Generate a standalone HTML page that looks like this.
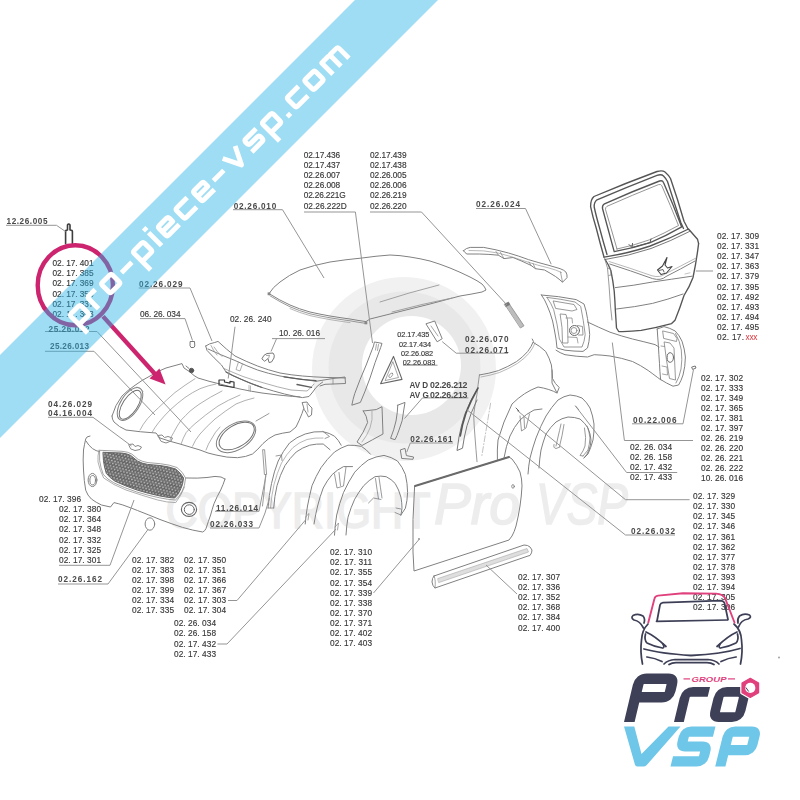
<!DOCTYPE html>
<html><head><meta charset="utf-8"><title>Pro VSP - carrosserie</title>
<style>
html,body{margin:0;padding:0;background:#fff;}
body{width:800px;height:800px;overflow:hidden;font-family:"Liberation Sans",sans-serif;}
svg{display:block;font-family:"Liberation Sans",sans-serif;}
.r{fill:#383838;stroke:#383838;stroke-width:0.15;}
.b{fill:#4a4a4a;font-weight:bold;}
.ln{fill:none;stroke:#808080;stroke-width:1;stroke-linecap:round;stroke-linejoin:round;}
.x{fill:#d8343a;}
.ld{fill:none;stroke:#959595;stroke-width:1;}
</style></head><body>
<svg width="800" height="800" viewBox="0 0 800 800">
<rect width="800" height="800" fill="#ffffff"/>
<!-- watermark -->
<g>
<circle cx="404" cy="369" r="92" fill="#f1f1f1"/>
<circle cx="404.5" cy="367.5" r="76" fill="#e8e8e8"/>
<circle cx="411.5" cy="365.5" r="49.5" fill="#ffffff"/>
<g font-family="Liberation Sans, sans-serif" fill="#ededed" stroke="#ededed" stroke-width="1.6">
<text x="165.5" y="528.3" font-size="50" textLength="265" lengthAdjust="spacingAndGlyphs">COPYRIGHT</text>
<text x="434" y="524" font-size="57" font-style="italic" textLength="86" lengthAdjust="spacingAndGlyphs">Pro</text>
<text x="536" y="524" font-size="57" font-style="italic" textLength="92" lengthAdjust="spacingAndGlyphs">VSP</text>
</g>
</g>

<defs><filter id="soft" x="-5%" y="-5%" width="110%" height="110%"><feGaussianBlur stdDeviation="0.38"/></filter></defs>
<!-- line art -->
<g class="ln" filter="url(#soft)">
<!-- hood -->
<path d="M112,416 Q115,405 122,396 Q128,390 134,386 Q142,380 150,376 Q158,371 166,368 L182,363.6 L184,368 L190,372 Q194,376 198,378 Q209,381.5 220,384 Q230,386.7 240,389 Q252,391.5 262,393 Q285,396 300,397"/>
<path d="M112,416 Q112,419.5 114,422 Q119,427 126,430 Q140,432 156,433 L160,438 Q170,441.5 180,444 Q190,447 200,450 Q208,453.5 216,455 Q227,457.8 237.5,457.7 Q246,457 252.5,454 Q258,449.5 263,443.5 Q268.5,438 275,435 Q283,432.8 290,432 L296,427 Q299.5,420 302,413.5 L303.5,409"/>
<!-- left headlight hole -->
<g transform="translate(130,404) rotate(-57)">
<ellipse cx="0" cy="0" rx="18.6" ry="9.3"/>
<ellipse cx="-0.5" cy="0.6" rx="16.6" ry="7.4" stroke="#6e6e6e" stroke-width="1"/>
</g>
<!-- right headlight hole -->
<g transform="translate(236,436.8) rotate(-32)">
<ellipse cx="0" cy="0" rx="21.8" ry="12.8"/>
<ellipse cx="1" cy="-0.3" rx="19.6" ry="10.8" stroke="#6e6e6e" stroke-width="1"/>
</g>
<path d="M256,421 L269,413.5" stroke-width="0.8"/>
<!-- creases -->
<g stroke-width="0.75" stroke="#959595">
<path d="M140,430 Q143,424 147.5,418.7 Q153,412.5 158.7,407.5 Q167,399.5 175,392.5 Q185,385 195,378.7"/>
<path d="M152,432.5 Q155,427 158.7,422.5 Q164,416 170,410 Q177,403.5 185,397.5 Q192,392.5 200,388.7 Q208,385.5 216,384"/>
<path d="M170,440 Q171.5,436 173.7,432.5 Q177,426 181.2,420 Q185.5,415.5 190,411.2 Q195,407 200,403.7 Q210,397 222,391"/>
<path d="M181.2,443.7 Q183,438 186.2,432.5 Q190,428 195,423.7 Q205,415 218,406 Q228,400 240,395"/>
<path d="M192.5,446.2 Q195,440 200,434 Q207,426 215,419 Q225,411 236,404 Q245,400 254,398"/>
<path d="M206,450 Q208,444 212,438 Q215,432 220,427"/>
<path d="M137,387 Q141,388 143,391.5"/>
</g>
<!-- bolt near hood corner -->
<circle cx="191.5" cy="370.5" r="2.2" fill="#555" stroke="#555"/>
<path d="M186,366 L189,368.5"/>
<!-- emblems on front edge -->
<path d="M158,435.5 L162,435 L164.5,437.5 L168,436.5 L172.5,438 L171,441 L166,443 L161.5,441.5 Z" stroke="#888"/>
<path d="M129,444.5 L133,444 L135,446.5 L138,445.5 L141.5,447 L140,449.5 L135,450.5 L131,449 Z" stroke="#888"/>
<!-- plate 02.26.240 -->
<path d="M219,380 L224.5,380 L224.5,382 L230,383.2 L230,381.3 L234,382 L234,387.5 L219,385 Z" stroke="#3a3a3a" stroke-width="1.2"/>
<!-- front bumper -->
<defs>
<pattern id="mesh" width="3.2" height="5.4" patternUnits="userSpaceOnUse" patternTransform="rotate(14)">
<rect width="3.2" height="5.4" fill="#2e2e2e"/>
<circle cx="0.8" cy="1.35" r="1.02" fill="#ececec"/>
<circle cx="2.4" cy="4.05" r="1.02" fill="#ececec"/>
</pattern>
</defs>
<path d="M90,436 Q86,436.5 85.7,439 Q84.5,444 83.5,450 Q82.8,460 83.5,470 Q84,481 85.7,490.2 Q87.5,495.5 91.4,499 Q96,502.5 101.5,505 L110.5,507 L113.9,502.6 Q118,503.5 122.9,505 Q130,507.5 137.5,510.5 Q149,515 160,519.5 Q171,523.7 182.5,527.4 Q193,530.5 202.7,532 Q205,531 206,528.5 Q208.5,521 210.6,515 Q212.2,509 214,503.7 Q217,496.5 220.7,490 Q223.5,484 225,479"/>
<path d="M86,441 Q88.5,445.5 92.5,448.6 Q96,451 99.5,451.7"/>
<path d="M186,478 Q198,478.5 207,477.5 Q216,475.6 221,477 L225,479"/>
<!-- inner contour -->
<path d="M99,450 Q97.5,456 98,462 Q100,471 103.7,478 Q113,485 126,490 Q142,495.5 157.7,500 Q167,502.5 175.7,502.6 Q181,496 184.5,487" stroke="#9a9a9a" stroke-width="0.8"/>
<!-- grille -->
<path d="M103.3,452.3 L121.7,453 Q127,453.5 130.7,455.4 L137.5,461 Q142,463.5 147.6,464.4 L160,465.5 Q169,466.5 175.7,469 Q181,473 183.6,478 Q183,485 180.2,490.2 Q178,495 174.6,498 Q167,497.5 160,496 Q148,493.5 137.5,490.2 Q125,486 115,481.2 Q110,478 106.3,473.4 Q104.2,467 103.5,461 Z" fill="url(#mesh)" stroke="#666" stroke-width="1"/>
<path d="M100,450.3 L122,451.3 Q128,451.8 131.8,454 L138.3,459.5 Q142.5,461.8 148,462.6 L160.3,463.7 Q170,464.8 177,467.5 Q183,472 185.6,478 Q185,486 182,491.5 Q179.5,497 175.4,500 Q167,499.5 159.5,497.8 Q147.5,495.3 136.8,492 Q124,487.8 113.8,482.8 Q107.5,479.5 103.2,474.4 Q100.7,468 99.7,461 Z" stroke="#8c8c8c" stroke-width="0.8"/>
<!-- fog lights -->
<ellipse cx="92.5" cy="480" rx="4.4" ry="6.6"/>
<ellipse cx="92.7" cy="480.2" rx="2.8" ry="4.7"/>
<ellipse cx="189" cy="509.4" rx="7.6" ry="7" stroke="#666" stroke-width="1.1"/>
<ellipse cx="189.3" cy="509.6" rx="5" ry="4.8" stroke="#666"/>
<!-- fog cover -->
<ellipse cx="149.9" cy="524" rx="4.8" ry="6.2"/>
<!-- cowl panel 02.26.029 -->
<path d="M205.7,346 Q209,343.5 214.7,342.5 L218,341.4 Q226,349 235,356 Q246,361.5 257.5,366 Q268,370 280,373 Q291,375 302.5,376 Q314,377 325,377.4 L345.2,378"/>
<path d="M208,349 Q221,355 235,360.5 Q246,365.7 257.5,370 Q268,373.5 280,376 Q294,378.5 307,380 L316,381.3"/>
<path d="M205.7,346 L207,350.4 Q214,358 221.5,365 L226,372 Q233,376 241.7,379.6 Q251,383.8 262,387.5 Q273,391 284.5,394 Q294,396.3 302.5,397.6 L309,396.5 Q313,392 316,387.5 Q319,384.5 322.7,382"/>
<path d="M223.7,368.4 Q233,372.5 243,376.5 Q253,380 264,383 Q277,387 291,390 L307,391 Q311,388 314,384" stroke="#999" stroke-width="0.8"/>
<path d="M214,347 Q217,352 222,356.5 M211,345.5 Q213,350 217,355" stroke="#999" stroke-width="0.8"/>
<path d="M238.5,362 L236,369.5 L240,371 L242.5,364" stroke="#999" stroke-width="0.8"/>
<path d="M249,385.5 L249,391 M250.5,386 L250.5,391.5" stroke="#999" stroke-width="0.7"/>
<path d="M284,376.8 Q300,379.5 316,380.6 M297,384.5 L311.5,387.3" stroke="#5e5e5e" stroke-width="1.3"/>
<path d="M226,372 Q233,376 241.7,379.6 Q251,383.8 262,387.5" stroke="#666" stroke-width="1.1"/>
<!-- wiper arm ends -->
<path d="M316,381.3 L333,378.5 L345,377 L345.5,383.5 L333,384 L325,384.3 L320,386"/>
<path d="M333,378.5 L333,384" stroke-width="0.7"/>
<!-- clip 10.26.016 -->
<path d="M262,358.5 Q263.5,354.5 267,353.5 L273,353 Q275,355 274,358 L271.5,362 L269,362.5 L268,358.5 L265,361 Z" stroke="#777"/>
<path d="M266.5,355.5 L269.5,355.3 L268.7,358" stroke-width="0.7"/>
<!-- clip 06.26.034 -->
<path d="M190.5,341.5 L194.5,341.5 L194.8,346 L193.8,347.5 L191,347.5 L190.2,346 Z" stroke="#777" stroke-width="1"/>
<!-- bracket under cowl -->
<path d="M302.5,402.5 L307,402 L309,405 L312,408 L311.5,415 L308.5,417 L306.5,413 L304.5,410 Z"/>
<path d="M307,404 L308,412" stroke-width="0.7"/>
<!-- windshield / roof glass 02.26.010 -->
<path d="M269,293.6 Q273,287 280,282 Q289,275 300,270 Q314,265 330,262 Q346,259.5 362,258 Q376,256 390,255 Q400,255.3 410,257 Q420,258.5 430,261 Q440,264 450,268 Q460,272 470,277 Q478,281 482,284 Q485,287 486,290 L482,292 Q471,294.3 460,296 Q445,300 430,304 Q410,309 390,314 Q380,316.5 370,319 L366,321.6 Q358,320.5 350,319 Q340,317.7 330,316 Q320,314.3 310,312 Q299,309 290,305 Q279,300 269,293.6 Z"/>
<path d="M270,295.8 Q280,302 290,306.8 Q299,310.8 310,313.8 Q320,316.1 330,317.8 Q340,319.5 350,320.8 Q358,322.3 366,323.4" stroke-width="0.8"/>
<path d="M290,308.6 Q299,312.6 310,315.6 Q320,317.9 330,319.6 Q340,321.3 350,322.6" stroke="#9a9a9a" stroke-width="0.7"/>
<path d="M380,302 Q409,292.5 439,285" stroke="#999" stroke-width="0.9"/>
<path d="M392,312 Q422,304 452,298" stroke="#999" stroke-width="0.9"/>
<rect x="267.6" y="292.4" width="2.8" height="2.8" fill="#888" stroke="none"/>
<rect x="364.5" y="321.5" width="2.8" height="2.8" fill="#888" stroke="none"/>
<!-- A pillar trim -->
<path d="M374.8,342 L382,343.4 L380.6,347.7 Q375,362 370,378 Q365,392 360.4,402.4 L351.8,405.2 Q353,399 354.7,393.7 Q360,379 366.2,365 Q370,355 373.4,346.3 Z"/>
<path d="M376.5,344 L375.5,350 M378.5,344.5 L377.5,350.5" stroke-width="0.7"/>
<!-- triangle window -->
<path d="M393.5,356.4 L402,379.4 L380.6,383.7 Z" stroke="#666" stroke-width="1.1"/>
<path d="M393,362 L398.5,377.5 L385.5,380.5 Z" stroke-width="0.7"/>
<ellipse cx="390.8" cy="375.3" rx="2.6" ry="1.4" transform="rotate(-50 390.8 375.3)" stroke-width="0.7"/>
<!-- small strip 02.26.070 -->
<path d="M426.3,323.7 L434.7,321 L442.2,338.7 L437.5,341.6 Z"/>
<path d="M431,326 L438,336" stroke-width="0.7"/>
<!-- B pillar pieces -->
<path d="M363.3,411 L376.2,409.6 L382,406.7 L383,434 Q372,440 362,445.5 L357,442 Q364,432 367.6,422.5 Q367,416 363.3,411 Z"/>
<path d="M372,411 Q373,420 370,428 Q367,436 362,442" stroke-width="0.7" stroke="#999"/>
<path d="M397.8,405.2 L405,402.4 L403.6,411 Q403,421 399,430 Q397,436 395,439.7 L390.6,438.3 Q394,430 396,421 Q397.5,413 397.8,405.2 Z"/>
<!-- bracket 02.26.161 -->
<path d="M400.7,449.8 L405,448.4 L406.4,455.6 L413.6,457 L413,459.3 L402.1,458.5 Z"/>
<!-- spoiler 02.26.024 -->
<path d="M463.5,250.7 Q466,248 470.2,247.4 L483.7,247.4 Q496,249.5 508.5,253 Q519,256 528.7,259.7 Q539,262.8 549,265.4 L560.2,268.7 Q564,270 565.9,272 Q567.5,275 567,277.7 L562.5,282.2 Q559,279 555.7,276.6 Q550,273 544.5,270 L535.5,268.7 L531,265.4 Q522,261 513,257.5 L504,258.6 L498.4,255.2 Q489,254.2 479.2,254 L466.9,254 Q464.5,252.5 463.5,250.7 Z"/>
<path d="M469,250.5 Q484,250 498,253 Q512,256.5 526,261.5 Q538,265.5 549,268 Q556,269.8 561.5,272.5" stroke-width="0.7" stroke="#999"/>
<path d="M496,251.5 L498.4,255.2 M500.5,252.5 L504,258.6 M529,262 L531,265.4 M533,263.5 L535.5,268.7 M560.5,272 L562.5,282" stroke-width="0.7"/>
<!-- antenna -->
<path d="M506.2,305.9 L509.5,304.3 L524,325.8 L520.7,327.8 Z" fill="#bdbdbd" stroke="#8a8a8a" stroke-width="0.8"/>
<path d="M504.5,304 L508.5,302 L510,304.5 L506,306.5 Z" fill="#777" stroke="#777" stroke-width="0.6"/>
<!-- tailgate -->
<g stroke="#555555" stroke-width="1.35">
<path d="M604,257 Q600,243 596.2,228 Q592.5,216 590.6,206.6 Q590.5,199.5 594,196.5 Q626,183 657,171.5 Q662.5,170 665,172 Q668.5,175 670.5,178.5 Q678,200 684,221.2 L688.3,229.5"/>
<path d="M607,254.5 Q603,241 599.3,227 Q596,215.5 594.2,207 Q594,202 597,199.8 Q627,187 657,175.3 Q661.5,174 663.5,176 Q666,178.5 667.5,181.5 Q674,202 680.8,222.5 L683.5,228.5"/>
<path d="M614.2,251.6 Q608,229 602.5,208.5 Q602,205.5 604.5,203.8 Q632,191.5 659.5,181 Q662.5,180 663.5,182.5 Q673,204 681.7,226.9 Q666,236 650.2,242.6 Q632,248.5 614.2,251.6 Z"/>
<path d="M617,249 Q611,228 605.5,209.5 Q605.3,207.3 607,206.3 Q632.5,195 658.5,184.6 Q661,184 661.8,185.7 Q670.5,205.5 678.5,225.5 Q664,233.5 649.5,239.8 Q633,245.8 617,249 Z" stroke-width="0.8" stroke="#7a7a7a"/>
<!-- shelf -->
<path d="M604.1,257.2 Q628,253.5 650.2,246 Q670,238.5 688.5,229 L697.5,239.2 L698.6,243.7"/>
<path d="M605.2,259.5 Q629,256 651,248.5 Q671,241 689.5,231.5" stroke-width="0.8"/>
<path d="M698.6,243.7 Q696.5,261 693,277.5 Q689.5,287 684,295.5 Q680,308 675,320.2 L671.6,323.6 Q657,327.5 641.2,330.4 Q630,331.8 618.7,331.5 L616.5,328 Q616,319.5 615.4,311.2 Q615,301 614.2,291 Q613,281 610.9,270.7 Q608.5,264.5 605.2,259.5"/>
</g>
<path d="M615.4,287.6 Q634,285.5 652.5,282 Q671,279.3 692,276.2"/>
<path d="M616.5,309 Q635,307 652.5,303.4 Q668,299.5 683,294"/>
<path d="M609.7,264 Q630,270.5 652.5,278.6 Q661,281 666,276.5 Q680,269.5 695,261" />
<path d="M609,261.5 Q630,268 652,275.8 Q660,278 665,274 Q680,266.5 696,258" stroke-width="0.7" stroke="#999"/>
<path d="M604.5,258 L607.5,268 L609,285 L610.5,306 L612,320" stroke-width="0.8"/>
<path d="M608,268.5 L610.5,268 L611,275 L608.8,275.5" stroke-width="0.7"/>
<!-- emblem -->
<path d="M667,257.5 L662.5,266 L657.5,270 L661,274.5 L666.5,273 L672,266.5 L667.5,268 L665,265 Z" stroke="#444" stroke-width="1.1"/>
<path d="M659,270.5 L663,269.5 L664,272" stroke="#444" stroke-width="0.8"/>
<path d="M629,244.5 L632,247.5 M632.5,243.5 L632,247.5 L650,242.5 L651,239" stroke="#555" stroke-width="1"/>
<path d="M685,274 L690,272.8" stroke-width="0.7" stroke="#aaa"/>
<!-- rear bumper with tail-light housings -->
<path d="M541.4,295 Q558,296 576.2,299.6 L584,304 Q586.5,311 587.5,318.7 Q589.3,327 589.7,334.5 Q589.3,342 587.5,348 L583,351.4 Q574,351.3 565,350.2 L557,348 L556,339 Q554.5,330 552.6,321 Q550.5,313 547,305.2 Q544.8,299.5 541.4,295 Z"/>
<path d="M547,297.4 Q561,299 575,302 L580.7,306.4 Q583.5,320 585.2,334.5 Q584.5,341.5 582,347 L564,347 L559.4,339 Q557.5,324 553.7,309.7 Q551,303 547,297.4 Z" stroke-width="0.8"/>
<path d="M553.5,301 L574,304.5 L577,309.5 L572,311 L556,308.5 Z" stroke-width="0.8"/>
<path d="M560.5,314 L566,314.5 L567.5,320 L568,343 L562.5,343 L562,328 Z" stroke-width="0.8"/>
<path d="M566,318 L572,318 L572.5,323 M568,337 L577,337.5 L578,343" stroke-width="0.7"/>
<circle cx="574.5" cy="330.5" r="5" stroke="#666" stroke-width="1"/>
<circle cx="574" cy="330.5" r="3" stroke-width="0.8"/>
<path d="M577.5,325.5 L582.5,326.5 L583,335 L578.5,335" stroke-width="0.8"/>
<!-- bumper body -->
<path d="M587.5,322 Q599,327.5 610,332.2 Q621,336 632.5,339 Q644,341.7 655,344.6 L659,347"/>
<path d="M556,350.2 Q560,353 565,354.7 Q576,356.5 587.5,357 L594.2,354.7 Q602,355 610,356 Q622,358 632.5,361.5 Q641,365.5 648.2,370.5 Q653,374 657.2,377.2 L661,380"/>
<!-- right housing -->
<path d="M657.2,329 L664,326.6 Q670,328 675.2,331 Q679.5,335.5 682,341.2 Q684.7,349 685.4,357 Q685.3,366.5 683,375 Q681.3,380.5 678.6,385 L673,386.2 Q666.5,383.3 660.6,379.5 Q659.8,371.5 659.5,363.7 Q658.8,354.5 658.4,345.7 Q657.7,337 657.2,329 Z"/>
<path d="M675.5,333.5 Q680,341 681.3,350 Q682.5,360 681,369 Q679.5,377 676,383" stroke-width="0.8"/>
<path d="M663,331 L673.5,333.5 L677,338.5 L676.5,341.5 L664,338.5 Z" stroke-width="0.8"/>
<path d="M664.5,342 L670,343 L674,348 L675.5,380 L669.5,378.5 L666.5,360 Z" stroke-width="0.8"/>
<ellipse cx="670.3" cy="357.5" rx="3.2" ry="4.8" stroke="#666" stroke-width="1"/>
<path d="M661,346 L664.5,346.5 M662,366 L667,367 L667.5,375 L662.5,374" stroke-width="0.7"/>
<!-- screw -->
<path d="M692,367 L695.2,366 L696,368 L693,369.3 Z" stroke="#666" stroke-width="0.9"/>
<!-- rear quarter panel -->
<path d="M479.4,375 Q489,373.5 498.5,370.6 Q508,366.8 516.5,361.6 Q523,357 527.7,351.5 Q531.5,346.5 533.4,341.4 L532.2,339"/>
<path d="M481,377 Q490,375.5 499.5,372.5 Q509,368.6 517.5,363.4 Q524.5,358.5 529.3,353 Q533,348 535,343" stroke-width="0.7" stroke="#999"/>
<path d="M533.4,342.5 Q540,346 545.7,351.5 Q549.5,358 551.4,365 Q552.3,372 552.5,378.5 Q555,384 559.2,387.5 L557,393 L552,383 L552,370"/>
<path d="M557,393 Q550,389 538,387 Q524,392 512,404 Q503,422 498,440 Q497,450 497.4,459.5"/>
<path d="M479.4,375 Q478,385 477,394.2 Q475,404 473.7,414.5 Q474,426 475,437 Q476,450 477,461.7" stroke-width="0.8"/>
<!-- pillar seal -->
<path d="M477,389.5 Q470,401 464.7,414.5 Q461,426 459,437 L457,450.5 L462.5,448.2 Q464,437 467,425.7 Q471,412 477,400" stroke="#777"/>
<path d="M478,388 Q471,400 466,413 Q462,425 460.3,436" stroke="#555" stroke-width="1.6"/>
<path d="M490.6,403.2 L481.6,457.2" stroke-dasharray="6 2 1 2" stroke-width="0.6" stroke="#999"/>
<!-- rear arch flares -->
<path d="M504,458 Q506,446 510,436 Q514,427 520,420 Q526,414 534,410 L542,409" />
<path d="M520,416 L521.5,431 L526,428 L529.5,414 M524,416.5 L524.5,428" stroke-width="0.8"/>
<path d="M528,474 Q528.5,466 530,458 Q532.5,448 536,438 Q540.5,426 546,416 Q551.5,407 558,400 Q564,396 570,395 Q576.5,395.5 582,398 Q587,402.5 590,408 Q593,416 594,424 Q594.3,432 593,440 Q591,447.5 588,454 L584,458"/>
<path d="M539,468 Q539.5,459 541,450 Q543,442 546,434 Q550.5,427 556,422 Q562,418 568,417 Q574.5,417 580,419 Q585,423 588,428 Q590.5,434 591,440 Q590.8,445.5 589,450 Q587,455 584,458"/>
<path d="M561,424 Q559.5,431 558,437 Q557,442 556,446 M564,424.5 Q562.5,435 559.5,446.5 M554,444.5 Q553,448 556,448.5 L560,447" stroke-width="0.8"/>
<path d="M587,426 Q589.5,432 590,438 Q589.5,444.5 588,450 L583,456 M584.5,428 Q586.5,438 585,446 Q583.5,451 580,455.5 L583,456" stroke-width="0.8"/>
<path d="M516,408 L519,411 M575.5,406 L578.5,409.5" stroke="#666" stroke-width="1"/>
<!-- front arch liner 02.26.033 -->
<path d="M268,508 Q269,495 271.5,483.5 Q274,471.5 278.2,461 Q283,451 289.5,443 Q296.5,437 305.2,434 Q314,431 323.2,431.7 Q329.5,433 334.5,436.2 Q338.5,440 341.2,445.2"/>
<path d="M273.7,508 Q274.5,496 277,485.7 Q280,475 285,465.5 Q290,458 296.2,452 Q302.5,447.5 309.7,445.2 Q316.5,443.7 323.2,444 L330,449.7"/>
<path d="M270.5,508 Q271.5,495.5 274,484.5 Q277,473 281.5,463 Q286.5,454 293,447.5 Q299.5,442 307,439.5 Q315,437.5 323,438" stroke-width="0.7" stroke="#999"/>
<path d="M276,456 L281.5,455 L282,460.5 M323,431.5 L329.5,436.5 L325,438.5" stroke-width="0.8"/>
<path d="M268,508 L273.7,508" stroke-width="0.8"/>
<!-- flare A -->
<path d="M305.2,524 Q306,515 307.5,506 Q309.5,495.5 312,485.7 Q316,476 321,467.7 Q327,459 334.5,452 Q341,447.5 348,445.2 Q355,445 361.5,446.4 Q366.5,449.5 370.5,454.2"/>
<path d="M314,524 Q315.5,514.5 317.6,506 Q320,496.5 323.2,488 Q327,480.5 332.2,474.5 Q337.5,469.5 343.5,466.6 L352.5,466.6"/>
<path d="M334.5,474 L337,488 L343.5,486 L346,467 M339,472.5 L340.5,485.5" stroke-width="0.8"/>
<path d="M305.5,517 L309,513.5 L308,520" stroke-width="0.7"/>
<!-- flare B -->
<path d="M334.5,535.2 Q335,525 336.7,515 Q339.5,503 343.5,492.5 Q348.5,481.5 354.7,472.2 Q361,465 368.2,460 Q376,456.3 384,455.4 Q391.5,457 397.5,461 Q402.5,467 405.4,474.5 Q407.5,483.5 407.6,492.5 Q407.3,501 405.4,508.2 L400.9,515"/>
<path d="M346,535 Q346.5,526 348,517.2 Q350.8,507.5 354.7,499.2 Q358.8,491.8 363.7,485.7 Q369,480 375,476.7 Q381,475.5 386.2,476.7 Q391.5,479.3 395.2,483.5 Q399,489.8 400.9,497 Q402,503 402,508.2 L400.9,515"/>
<path d="M375.5,478.5 Q377,490 378.5,499 L381,499.5 M379,477.5 Q380.5,488 382,498 M368.5,503 L373.5,498 L378.5,499" stroke-width="0.8"/>
<path d="M396,508 L401,509 M395,512.5 L400.9,515" stroke-width="0.8"/>
<path d="M335,527 L338.5,523 L337.5,530" stroke-width="0.7"/>
<!-- strip 11.26.014 -->
<path d="M263,449.7 L264.6,449.7 L266.6,474.5 L264.8,474.5 Z" stroke-width="0.8"/>
<path d="M265.7,474.5 Q264.5,490 262.5,506" stroke-width="0.8"/>
<!-- door -->
<path d="M415,486 L509,457 L512,459 Q517,465 520,472 Q522,479 522,486 Q521.5,496 520,506 Q518.5,516 516,526 Q514.5,531.5 512,536 L509,540 L414,571 L413,552 L413,520 Z"/>
<path d="M415,486 L509,457" stroke="#6a6a6a" stroke-width="1.9"/>
<ellipse cx="513" cy="486.4" rx="1.3" ry="1.8" stroke="#777" stroke-width="0.8"/>
<circle cx="419" cy="539" r="0.9" fill="#888" stroke="none"/>
<!-- sill -->
<path d="M434,576 L524,545 Q528,545 530,547 L532,550 Q532,553 530,555.5 L528,556 L435,588 Q432.5,586 432,582 Q432,578 434,576 Z"/>
<path d="M438,578.5 L527,548.5 L528.5,552 L439,582.5 Z" fill="#dedede" stroke="#aaa" stroke-width="0.6"/>
<path d="M434,576 Q436,580 435,588" stroke-width="0.7"/>
<!-- clip 12.26.005 -->
<path d="M65.6,243.7 L65.6,231.5 Q65.6,230 67.5,230 L67.5,225 Q68.7,223 70,225 L70,230 Q72.4,230 72.4,231.5 L72.4,243.7" stroke="#3c3c3c" stroke-width="1.6"/>

</g>
<!-- leader lines -->
<g class="ld" filter="url(#soft)">
<path d="M6,225.3 H56.5 L65.5,231.5"/>
<path d="M45,331.5 H97 L191,432"/>
<path d="M45,351.3 H94 L155,415"/>
<path d="M138.7,288 H190 L212,341"/>
<path d="M140,318.6 H185 L192.5,340.5"/>
<path d="M235,326.7 L228.2,378.5"/>
<path d="M272,338.6 H325 M276.6,338.6 L271,351.5"/>
<path d="M233,209.7 H282.5 L324,278"/>
<path d="M304,212 H355.4 L372.5,343"/>
<path d="M370,212 H421.5 L507,305"/>
<path d="M476,208.5 H525.5 L551.2,264.2"/>
<path d="M442.2,341.6 L456.2,353.2 H508"/>
<path d="M403,365.2 H437.5"/>
<path d="M422.5,397.9 H468.4 M422.5,397.9 L404.5,418.5"/>
<path d="M410.3,443 H453 M410.3,443 L406.8,452"/>
<path d="M48,417.3 H93 L131.5,446"/>
<path d="M215,511.3 H259 L266,475.5"/>
<path d="M210,528 H259 L265,513 L269.5,498"/>
<path d="M59,565.3 H110 L134,500"/>
<path d="M58,584 H108 L147.6,530"/>
<path d="M228,600.5 H237 L305.5,520"/>
<path d="M217.5,644 H227 L336,529"/>
<path d="M373.5,593 L419,539.5"/>
<path d="M517,594 L486,565"/>
<path d="M695.8,271 H713"/>
<path d="M632,423.8 H683 L693.5,369.5"/>
<path d="M612.3,342.5 L624.4,440.5 H693"/>
<path d="M626.6,472.5 H677.2 M626.6,472.5 L577,408"/>
<path d="M625.5,499.7 H689.6 M625.5,499.7 L517,410.3"/>
<path d="M625.5,535 H675 M625.5,535 L466,409"/>

</g>
<!-- labels -->
<g filter="url(#soft)">
<text class="r" x="303.7" y="157.5" font-size="8.3" textLength="36.5" lengthAdjust="spacing">02.17.436</text>
<text class="r" x="303.7" y="167.7" font-size="8.3" textLength="36.5" lengthAdjust="spacing">02.17.437</text>
<text class="r" x="303.7" y="177.9" font-size="8.3" textLength="36.5" lengthAdjust="spacing">02.26.007</text>
<text class="r" x="303.7" y="188.1" font-size="8.3" textLength="36.5" lengthAdjust="spacing">02.26.008</text>
<text class="r" x="303.7" y="198.3" font-size="8.3" textLength="42" lengthAdjust="spacing">02.26.221G</text>
<text class="r" x="303.7" y="208.5" font-size="8.3" textLength="43" lengthAdjust="spacing">02.26.222D</text>
<text class="r" x="370.0" y="157.5" font-size="8.3" textLength="36.5" lengthAdjust="spacing">02.17.439</text>
<text class="r" x="370.0" y="167.7" font-size="8.3" textLength="36.5" lengthAdjust="spacing">02.17.438</text>
<text class="r" x="370.0" y="177.9" font-size="8.3" textLength="36.5" lengthAdjust="spacing">02.26.005</text>
<text class="r" x="370.0" y="188.1" font-size="8.3" textLength="36.5" lengthAdjust="spacing">02.26.006</text>
<text class="r" x="370.0" y="198.3" font-size="8.3" textLength="36.5" lengthAdjust="spacing">02.26.219</text>
<text class="r" x="370.0" y="208.5" font-size="8.3" textLength="36.5" lengthAdjust="spacing">02.26.220</text>
<text class="r" x="52.5" y="265.8" font-size="8.3" textLength="41" lengthAdjust="spacing">02. 17. 401</text>
<text class="r" x="52.5" y="276.1" font-size="8.3" textLength="41" lengthAdjust="spacing">02. 17. 385</text>
<text class="r" x="52.5" y="286.3" font-size="8.3" textLength="41" lengthAdjust="spacing">02. 17. 369</text>
<text class="r" x="52.5" y="296.6" font-size="8.3" textLength="41" lengthAdjust="spacing">02. 17. 353</text>
<text class="r" x="52.5" y="306.8" font-size="8.3" textLength="41" lengthAdjust="spacing">02. 17. 337</text>
<text class="r" x="52.5" y="317.1" font-size="8.3" textLength="41" lengthAdjust="spacing">02. 17. 303</text>
<text class="r" x="140.0" y="316.5" font-size="8.3" textLength="40.5" lengthAdjust="spacing">06. 26. 034</text>
<text class="r" x="230.0" y="321.5" font-size="8.3" textLength="41.5" lengthAdjust="spacing">02. 26. 240</text>
<text class="r" x="279.0" y="335.5" font-size="8.3" textLength="41" lengthAdjust="spacing">10. 26. 016</text>
<text class="r" x="397.2" y="337.4" font-size="7.3" textLength="32" lengthAdjust="spacing">02.17.435</text>
<text class="r" x="399.0" y="346.8" font-size="7.3" textLength="32" lengthAdjust="spacing">02.17.434</text>
<text class="r" x="401.0" y="356.0" font-size="7.3" textLength="32" lengthAdjust="spacing">02.26.082</text>
<text class="r" x="402.8" y="364.6" font-size="7.3" textLength="32.5" lengthAdjust="spacing">02.26.083</text>
<text class="r" x="717.0" y="239.0" font-size="8.3" textLength="42" lengthAdjust="spacing">02. 17. 309</text>
<text class="r" x="717.0" y="249.1" font-size="8.3" textLength="42" lengthAdjust="spacing">02. 17. 331</text>
<text class="r" x="717.0" y="259.2" font-size="8.3" textLength="42" lengthAdjust="spacing">02. 17. 347</text>
<text class="r" x="717.0" y="269.3" font-size="8.3" textLength="42" lengthAdjust="spacing">02. 17. 363</text>
<text class="r" x="717.0" y="279.4" font-size="8.3" textLength="42" lengthAdjust="spacing">02. 17. 379</text>
<text class="r" x="717.0" y="289.5" font-size="8.3" textLength="42" lengthAdjust="spacing">02. 17. 395</text>
<text class="r" x="717.0" y="299.6" font-size="8.3" textLength="42" lengthAdjust="spacing">02. 17. 492</text>
<text class="r" x="717.0" y="309.7" font-size="8.3" textLength="42" lengthAdjust="spacing">02. 17. 493</text>
<text class="r" x="717.0" y="319.8" font-size="8.3" textLength="42" lengthAdjust="spacing">02. 17. 494</text>
<text class="r" x="717.0" y="329.9" font-size="8.3" textLength="42" lengthAdjust="spacing">02. 17. 495</text>
<text class="r" x="717.0" y="340.0" font-size="8.3" textLength="27" lengthAdjust="spacing">02. 17.</text>
<text class="x" x="745.5" y="340.0" font-size="8.3" textLength="12" lengthAdjust="spacing">xxx</text>
<text class="r" x="701.0" y="380.6" font-size="8.3" textLength="42" lengthAdjust="spacing">02. 17. 302</text>
<text class="r" x="701.0" y="390.6" font-size="8.3" textLength="42" lengthAdjust="spacing">02. 17. 333</text>
<text class="r" x="701.0" y="400.6" font-size="8.3" textLength="42" lengthAdjust="spacing">02. 17. 349</text>
<text class="r" x="701.0" y="410.6" font-size="8.3" textLength="42" lengthAdjust="spacing">02. 17. 365</text>
<text class="r" x="701.0" y="420.6" font-size="8.3" textLength="42" lengthAdjust="spacing">02. 17. 381</text>
<text class="r" x="701.0" y="430.6" font-size="8.3" textLength="42" lengthAdjust="spacing">02. 17. 397</text>
<text class="r" x="701.0" y="440.6" font-size="8.3" textLength="42" lengthAdjust="spacing">02. 26. 219</text>
<text class="r" x="701.0" y="450.6" font-size="8.3" textLength="42" lengthAdjust="spacing">02. 26. 220</text>
<text class="r" x="701.0" y="460.6" font-size="8.3" textLength="42" lengthAdjust="spacing">02. 26. 221</text>
<text class="r" x="701.0" y="470.6" font-size="8.3" textLength="42" lengthAdjust="spacing">02. 26. 222</text>
<text class="r" x="701.0" y="480.6" font-size="8.3" textLength="42" lengthAdjust="spacing">10. 26. 016</text>
<text class="r" x="630.0" y="450.0" font-size="8.3" textLength="42" lengthAdjust="spacing">02. 26. 034</text>
<text class="r" x="630.0" y="460.1" font-size="8.3" textLength="42" lengthAdjust="spacing">02. 26. 158</text>
<text class="r" x="630.0" y="470.2" font-size="8.3" textLength="42" lengthAdjust="spacing">02. 17. 432</text>
<text class="r" x="630.0" y="480.3" font-size="8.3" textLength="42" lengthAdjust="spacing">02. 17. 433</text>
<text class="r" x="693.0" y="499.0" font-size="8.3" textLength="42" lengthAdjust="spacing">02. 17. 329</text>
<text class="r" x="693.0" y="509.1" font-size="8.3" textLength="42" lengthAdjust="spacing">02. 17. 330</text>
<text class="r" x="693.0" y="519.2" font-size="8.3" textLength="42" lengthAdjust="spacing">02. 17. 345</text>
<text class="r" x="693.0" y="529.4" font-size="8.3" textLength="42" lengthAdjust="spacing">02. 17. 346</text>
<text class="r" x="693.0" y="539.5" font-size="8.3" textLength="42" lengthAdjust="spacing">02. 17. 361</text>
<text class="r" x="693.0" y="549.6" font-size="8.3" textLength="42" lengthAdjust="spacing">02. 17. 362</text>
<text class="r" x="693.0" y="559.7" font-size="8.3" textLength="42" lengthAdjust="spacing">02. 17. 377</text>
<text class="r" x="693.0" y="569.8" font-size="8.3" textLength="42" lengthAdjust="spacing">02. 17. 378</text>
<text class="r" x="693.0" y="580.0" font-size="8.3" textLength="42" lengthAdjust="spacing">02. 17. 393</text>
<text class="r" x="693.0" y="590.1" font-size="8.3" textLength="42" lengthAdjust="spacing">02. 17. 394</text>
<text class="r" x="693.0" y="600.2" font-size="8.3" textLength="42" lengthAdjust="spacing">02. 17. 305</text>
<text class="r" x="693.0" y="610.3" font-size="8.3" textLength="42" lengthAdjust="spacing">02. 17. 306</text>
<text class="r" x="518.0" y="580.0" font-size="8.3" textLength="42" lengthAdjust="spacing">02. 17. 307</text>
<text class="r" x="518.0" y="590.1" font-size="8.3" textLength="42" lengthAdjust="spacing">02. 17. 336</text>
<text class="r" x="518.0" y="600.2" font-size="8.3" textLength="42" lengthAdjust="spacing">02. 17. 352</text>
<text class="r" x="518.0" y="610.3" font-size="8.3" textLength="42" lengthAdjust="spacing">02. 17. 368</text>
<text class="r" x="518.0" y="620.4" font-size="8.3" textLength="42" lengthAdjust="spacing">02. 17. 384</text>
<text class="r" x="518.0" y="630.5" font-size="8.3" textLength="42" lengthAdjust="spacing">02. 17. 400</text>
<text class="r" x="330.0" y="555.0" font-size="8.3" textLength="42" lengthAdjust="spacing">02. 17. 310</text>
<text class="r" x="330.0" y="565.1" font-size="8.3" textLength="42" lengthAdjust="spacing">02. 17. 311</text>
<text class="r" x="330.0" y="575.3" font-size="8.3" textLength="42" lengthAdjust="spacing">02. 17. 355</text>
<text class="r" x="330.0" y="585.5" font-size="8.3" textLength="42" lengthAdjust="spacing">02. 17. 354</text>
<text class="r" x="330.0" y="595.6" font-size="8.3" textLength="42" lengthAdjust="spacing">02. 17. 339</text>
<text class="r" x="330.0" y="605.8" font-size="8.3" textLength="42" lengthAdjust="spacing">02. 17. 338</text>
<text class="r" x="330.0" y="615.9" font-size="8.3" textLength="42" lengthAdjust="spacing">02. 17. 370</text>
<text class="r" x="330.0" y="626.0" font-size="8.3" textLength="42" lengthAdjust="spacing">02. 17. 371</text>
<text class="r" x="330.0" y="636.2" font-size="8.3" textLength="42" lengthAdjust="spacing">02. 17. 402</text>
<text class="r" x="330.0" y="646.4" font-size="8.3" textLength="42" lengthAdjust="spacing">02. 17. 403</text>
<text class="r" x="174.0" y="626.0" font-size="8.3" textLength="42" lengthAdjust="spacing">02. 26. 034</text>
<text class="r" x="174.0" y="636.3" font-size="8.3" textLength="42" lengthAdjust="spacing">02. 26. 158</text>
<text class="r" x="174.0" y="646.6" font-size="8.3" textLength="42" lengthAdjust="spacing">02. 17. 432</text>
<text class="r" x="174.0" y="656.9" font-size="8.3" textLength="42" lengthAdjust="spacing">02. 17. 433</text>
<text class="r" x="132.0" y="562.5" font-size="8.3" textLength="42" lengthAdjust="spacing">02. 17. 382</text>
<text class="r" x="132.0" y="572.5" font-size="8.3" textLength="42" lengthAdjust="spacing">02. 17. 383</text>
<text class="r" x="132.0" y="582.6" font-size="8.3" textLength="42" lengthAdjust="spacing">02. 17. 398</text>
<text class="r" x="132.0" y="592.6" font-size="8.3" textLength="42" lengthAdjust="spacing">02. 17. 399</text>
<text class="r" x="132.0" y="602.7" font-size="8.3" textLength="42" lengthAdjust="spacing">02. 17. 334</text>
<text class="r" x="132.0" y="612.8" font-size="8.3" textLength="42" lengthAdjust="spacing">02. 17. 335</text>
<text class="r" x="184.0" y="562.5" font-size="8.3" textLength="42" lengthAdjust="spacing">02. 17. 350</text>
<text class="r" x="184.0" y="572.5" font-size="8.3" textLength="42" lengthAdjust="spacing">02. 17. 351</text>
<text class="r" x="184.0" y="582.6" font-size="8.3" textLength="42" lengthAdjust="spacing">02. 17. 366</text>
<text class="r" x="184.0" y="592.6" font-size="8.3" textLength="42" lengthAdjust="spacing">02. 17. 367</text>
<text class="r" x="184.0" y="602.7" font-size="8.3" textLength="42" lengthAdjust="spacing">02. 17. 303</text>
<text class="r" x="184.0" y="612.8" font-size="8.3" textLength="42" lengthAdjust="spacing">02. 17. 304</text>
<text class="r" x="39.0" y="502.0" font-size="8.3" textLength="42" lengthAdjust="spacing">02. 17. 396</text>
<text class="r" x="59.0" y="512.0" font-size="8.3" textLength="42" lengthAdjust="spacing">02. 17. 380</text>
<text class="r" x="59.0" y="522.2" font-size="8.3" textLength="42" lengthAdjust="spacing">02. 17. 364</text>
<text class="r" x="59.0" y="532.4" font-size="8.3" textLength="42" lengthAdjust="spacing">02. 17. 348</text>
<text class="r" x="59.0" y="542.6" font-size="8.3" textLength="42" lengthAdjust="spacing">02. 17. 332</text>
<text class="r" x="59.0" y="552.8" font-size="8.3" textLength="42" lengthAdjust="spacing">02. 17. 325</text>
<text class="r" x="59.0" y="563.0" font-size="8.3" textLength="42" lengthAdjust="spacing">02. 17. 301</text>
<text class="b" x="6.5" y="223.5" font-size="8.2" textLength="41" lengthAdjust="spacing">12.26.005</text>
<text class="b" x="48.5" y="331.5" font-size="8.2" textLength="41" lengthAdjust="spacing">25.26.012</text>
<text class="b" x="50.0" y="349.0" font-size="8.2" textLength="39" lengthAdjust="spacing">25.26.013</text>
<text class="b" x="139.0" y="286.5" font-size="8.2" textLength="43.5" lengthAdjust="spacing">02.26.029</text>
<text class="b" x="233.7" y="208.5" font-size="8.2" textLength="42.5" lengthAdjust="spacing">02.26.010</text>
<text class="b" x="476.0" y="207.0" font-size="8.2" textLength="44" lengthAdjust="spacing">02.26.024</text>
<text class="b" x="465.0" y="342.0" font-size="8.2" textLength="43.5" lengthAdjust="spacing">02.26.070</text>
<text class="b" x="465.0" y="353.0" font-size="8.2" textLength="43.5" lengthAdjust="spacing">02.26.071</text>
<text class="b" x="409.4" y="388.1" font-size="9.4" textLength="18.8" lengthAdjust="spacingAndGlyphs">AV D</text>
<text class="b" x="409.4" y="398.0" font-size="9.4" textLength="19.4" lengthAdjust="spacingAndGlyphs">AV G</text>
<text class="b" x="430.0" y="387.6" font-size="8.8" textLength="37.5" lengthAdjust="spacing">02.26.212</text>
<text class="b" x="430.0" y="397.5" font-size="8.8" textLength="37.5" lengthAdjust="spacing">02.26.213</text>
<text class="b" x="410.3" y="441.8" font-size="8.2" textLength="42.2" lengthAdjust="spacing">02.26.161</text>
<text class="b" x="48.0" y="406.5" font-size="8.2" textLength="44" lengthAdjust="spacing">04.26.029</text>
<text class="b" x="48.0" y="415.5" font-size="8.2" textLength="44" lengthAdjust="spacing">04.16.004</text>
<text class="b" x="216.0" y="511.0" font-size="8.2" textLength="42" lengthAdjust="spacing">11.26.014</text>
<text class="b" x="210.0" y="527.4" font-size="8.2" textLength="43" lengthAdjust="spacing">02.26.033</text>
<text class="b" x="58.0" y="582.0" font-size="8.2" textLength="44" lengthAdjust="spacing">02.26.162</text>
<text class="b" x="633.0" y="422.5" font-size="8.2" textLength="43.5" lengthAdjust="spacing">00.22.006</text>
<text class="b" x="631.0" y="534.0" font-size="8.2" textLength="44" lengthAdjust="spacing">02.26.032</text>
</g>
<!-- highlight circle + arrow -->
<g fill="none" stroke="#cc246e" stroke-width="4.4">
<ellipse cx="75.3" cy="285.3" rx="37.6" ry="40"/>
<path d="M103,316.4 L155,374" stroke-width="4.4"/>
</g>
<path d="M165.6,384.6 L149.6,378.4 L159.4,368.6 Z" fill="#cc246e"/>

<!-- banner -->
<g transform="rotate(-45)">
<rect x="-700" y="251" width="1400" height="58.7" fill="#28b4e6" fill-opacity="0.45"/>
<g fill="none" stroke="#ffffff" stroke-width="4.9" stroke-linejoin="round" stroke-linecap="butt">
<path transform="translate(-173.55,285.5)" d="M0,12 V-11.20 Q0,-13.5 2.3,-13.5 H12.30 Q14.6,-13.5 14.6,-11.20 V-2.3 Q14.6,0 12.30,0 H0"/>
<path transform="translate(-148.61,285.5)" d="M0,2.45 V-11.20 Q0,-13.5 2.3,-13.5 H11.25"/>
<path transform="translate(-129.46,285.5)" d="M2.3,-13.5 H12.30 Q14.6,-13.5 14.6,-11.20 V-2.3 Q14.6,0 12.30,0 H2.3 Q0,0 0,-2.3 V-11.20 Q0,-13.5 2.3,-13.5 Z"/>
<path transform="translate(-104.52,285.5)" d="M-2.45,-6.75 H12.25"/>
<path transform="translate(-84.38,285.5)" d="M0,12 V-11.20 Q0,-13.5 2.3,-13.5 H12.30 Q14.6,-13.5 14.6,-11.20 V-2.3 Q14.6,0 12.30,0 H0"/>
<path transform="translate(-59.43,285.5)" d="M0,2.45 V-15.95 M0,-18.55 V-22.95"/>
<path transform="translate(-49.09,285.5)" d="M0,-6.75 H14.6 V-11.20 Q14.6,-13.5 12.30,-13.5 H2.3 Q0,-13.5 0,-11.20 V-2.3 Q0,0 2.3,0 H17.05"/>
<path transform="translate(-24.14,285.5)" d="M16.85,-13.5 H2.3 Q0,-13.5 0,-11.20 V-2.3 Q0,0 2.3,0 H16.85"/>
<path transform="translate(0.60,285.5)" d="M0,-6.75 H14.6 V-11.20 Q14.6,-13.5 12.30,-13.5 H2.3 Q0,-13.5 0,-11.20 V-2.3 Q0,0 2.3,0 H17.05"/>
<path transform="translate(25.54,285.5)" d="M-2.45,-6.75 H12.25"/>
<path transform="translate(45.69,285.5)" d="M-0.3,-15.95 L8.50,1.85 L17.30,-15.95"/>
<path transform="translate(73.03,285.5)" d="M17.05,-13.5 H2.3 Q0,-13.5 0,-10.12 Q0,-6.75 2.3,-6.75 H12.30 Q14.6,-6.75 14.6,-3.38 Q14.6,0 12.30,0 H-2.45"/>
<path transform="translate(97.98,285.5)" d="M0,12 V-11.20 Q0,-13.5 2.3,-13.5 H12.30 Q14.6,-13.5 14.6,-11.20 V-2.3 Q14.6,0 12.30,0 H0"/>
<path transform="translate(122.92,285.5)" d="M0,2.45 V-2.15"/>
<path transform="translate(133.26,285.5)" d="M16.85,-13.5 H2.3 Q0,-13.5 0,-11.20 V-2.3 Q0,0 2.3,0 H16.85"/>
<path transform="translate(158.01,285.5)" d="M2.3,-13.5 H12.30 Q14.6,-13.5 14.6,-11.20 V-2.3 Q14.6,0 12.30,0 H2.3 Q0,0 0,-2.3 V-11.20 Q0,-13.5 2.3,-13.5 Z"/>
<path transform="translate(182.95,285.5)" d="M0,2.45 V-13.5 H9.00 Q11.30,-13.5 11.30,-11.20 V2.45 M11.30,-13.5 H20.30 Q22.6,-13.5 22.6,-11.20 V2.45"/>
</g></g>
<!-- logo -->
<g id="logo">
<!-- car outline -->
<g fill="none" stroke="#3d3f56" stroke-width="1.75" stroke-linecap="round" stroke-linejoin="round">
<!-- windshield -->
<path d="M657,621 L660,605 Q660.5,603 663,602.6 L720,600.6 Q723.5,600.6 724.5,603 L728,619.5"/>
<path d="M656.5,621.3 L727.5,620"/>
<!-- mirrors -->
<path d="M643.5,628 Q640,621 634,620 Q630.5,618 633,615.5 Q638,613 643,616 Q645.5,619 644,623"/>
<path d="M738.5,627 Q741,620 748,619 Q752,617.5 749.5,615 Q744,613 739.5,616 Q737,619 738,623"/>
<!-- body sides -->
<path d="M648,624 Q642,630 641.5,640 Q640,652 642.5,664"/>
<path d="M734,624 Q741,630 741.5,640 Q743,652 740.5,664"/>
<!-- headlights -->
<path d="M646,632 Q655,636 666,646.5"/>
<path d="M645.5,634 Q644,640 647,643 Q655,647 662.5,648 Q665,648 663,644"/>
<path d="M737,632 Q728,636 717,646.5"/>
<path d="M737.5,634 Q739,640 736,643 Q728,647 720.5,648 Q718,648 720,644"/>
<!-- hood line -->
<path d="M644,649 Q660,653.5 691,655.5 Q722,654 740,648.5" stroke-width="1.8"/>
<!-- grill / lower -->
<path d="M647,657 Q655,658 662,661.5"/>
<path d="M736,657 Q728,658 721,661.5"/>
<path d="M664,664 Q668,660 675,659.5 L708,659.5 Q715,660 719,664"/>
<path d="M669,664.5 Q672,662.5 676,662.5 L707,662.5 Q711,662.5 714,664.5"/>
</g>
<!-- pink roof -->
<path d="M648.3,622.5 L654.5,598.5 Q655,596 658,595.6 L683,593.2 L716,593.6 Q723,594 725,598 L734.5,622.5" fill="none" stroke="#e0407c" stroke-width="1.9" stroke-linejoin="round" stroke-linecap="round"/>
<!-- GROUP -->
<g fill="#e0407c">
<rect x="683.5" y="678.3" width="6.5" height="1.2"/>
<rect x="728" y="678.3" width="7" height="1.2"/>
<text x="691.5" y="682.2" font-size="7.8" font-weight="bold" font-style="italic" textLength="35" lengthAdjust="spacingAndGlyphs">GROUP</text>
</g>
<!-- Pro -->
<g fill="none" stroke="#3e4057" stroke-linejoin="round" stroke-linecap="butt">
<path transform="translate(624,722) skewX(-13.4)" stroke-width="10.6" d="M5.3,0 V-37.2 Q5.3,-43.2 11.3,-43.2 H32.9 Q38.9,-43.2 38.9,-37.2 V-30.8 Q38.9,-24.8 32.9,-24.8 H5.3"/>
<path transform="translate(674,722) skewX(-13.4)" stroke-width="9.8" d="M4.9,0 V-24.1 Q4.9,-30.1 10.9,-30.1 H27.7"/>
<path transform="translate(707.8,722) skewX(-13.4)" stroke-width="9.8" d="M10.9,-30.1 H24.1 Q30.1,-30.1 30.1,-24.1 V-10.9 Q30.1,-4.9 24.1,-4.9 H10.9 Q4.9,-4.9 4.9,-10.9 V-24.1 Q4.9,-30.1 10.9,-30.1 Z"/>
</g>
<!-- nut -->
<g transform="translate(750.3,687.9)">
<path d="M0,-9.6 L8.3,-4.8 L8.3,4.8 L0,9.6 L-8.3,4.8 L-8.3,-4.8 Z" fill="#ffffff" stroke="#ffffff" stroke-width="3.6" stroke-linejoin="round"/>
<path d="M0,-9.6 L8.3,-4.8 L8.3,4.8 L0,9.6 L-8.3,4.8 L-8.3,-4.8 Z" fill="#e0407c" stroke="#e0407c" stroke-width="1.2" stroke-linejoin="round"/>
<circle cx="0" cy="0" r="5.1" fill="#ffffff"/>
<path d="M-4.4,-0.4 L-1.6,3.6" stroke="#3d3f56" stroke-width="1" fill="none"/>
</g>
<!-- VSP -->
<g transform="translate(615,766.5) skewX(-14)" fill="none" stroke="#6ec6e8" stroke-width="10.2" stroke-linejoin="round" stroke-linecap="butt">
<path d="M55.5,-5.1 H81.5 Q86.5,-5.1 86.5,-10.1 V-15 Q86.5,-20 81.5,-20 H66.4 Q61.4,-20 61.4,-25 V-29.9 Q61.4,-34.9 66.4,-34.9 H90.5"/>
<path d="M105.3,0 V-29.9 Q105.3,-34.9 110.3,-34.9 H127 Q132,-34.9 132,-29.9 V-21.4 Q132,-16.4 127,-16.4 H105.3"/>
</g>
<path d="M624,726.5 H634.3 L641.5,754 L668.5,726.5 H680.5 L646.5,765.3 Q645.3,766.5 643.5,766.5 H637.2 Q635.5,766.5 635,764.8 Z" fill="#6ec6e8"/>
<circle cx="779" cy="657.5" r="0.9" fill="#999"/>
</g>

</svg>
</body></html>
